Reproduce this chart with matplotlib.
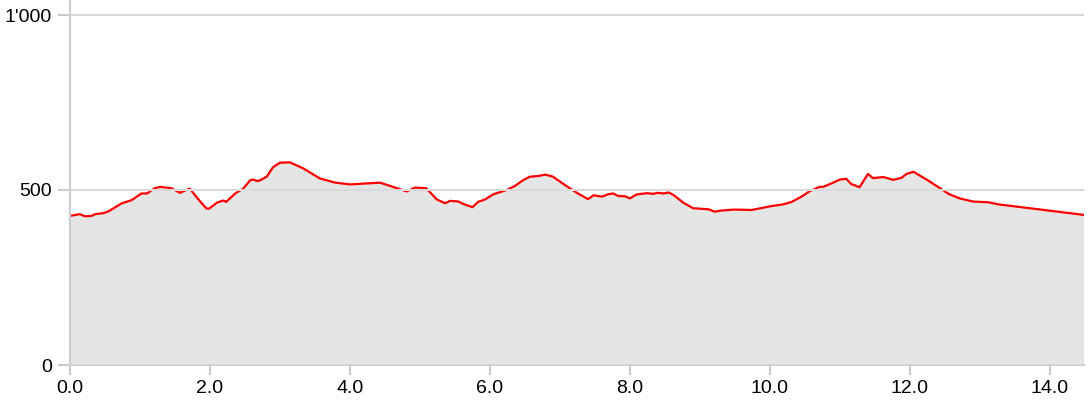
import matplotlib.pyplot as plt
from matplotlib.ticker import FuncFormatter

plt.rcParams['font.family'] = ['Liberation Sans', 'DejaVu Sans']

# distance (km) and elevation (m)
dist = [0.00, 0.14, 0.21, 0.31, 0.36, 0.48, 0.55, 0.74, 0.88, 1.02, 1.10, 1.21, 1.29,
        1.45, 1.57, 1.71, 1.86, 1.95, 1.99, 2.10, 2.19, 2.23, 2.36, 2.48, 2.57, 2.61,
        2.67, 2.71, 2.81, 2.90, 3.00, 3.14, 3.33, 3.57, 3.79, 4.00, 4.43, 4.81, 4.93,
        5.09, 5.24, 5.36, 5.43, 5.55, 5.62, 5.75, 5.83, 5.93, 6.05, 6.24, 6.36, 6.48,
        6.57, 6.69, 6.79, 6.90, 7.05, 7.24, 7.40, 7.48, 7.60, 7.69, 7.76, 7.83, 7.93,
        8.00, 8.09, 8.24, 8.33, 8.40, 8.48, 8.55, 8.62, 8.76, 8.90, 9.12, 9.21, 9.29,
        9.48, 9.74, 10.02, 10.19, 10.31, 10.45, 10.57, 10.71, 10.76, 10.88, 11.00,
        11.09, 11.16, 11.28, 11.40, 11.47, 11.62, 11.76, 11.88, 11.95, 12.05, 12.26,
        12.43, 12.55, 12.71, 12.90, 13.12, 13.26, 14.48]
elev = [426, 431, 425, 426, 431, 434, 439, 462, 471, 490, 490, 505, 509,
        505, 492, 504, 467, 447, 447, 464, 470, 466, 490, 505, 527, 530,
        526, 527, 538, 565, 578, 579, 562, 533, 521, 516, 521, 496, 507,
        505, 473, 462, 469, 467, 460, 451, 466, 473, 488, 500, 512, 529,
        538, 540, 544, 538, 517, 492, 474, 485, 481, 488, 490, 483, 482,
        476, 487, 491, 489, 492, 490, 493, 486, 464, 448, 445, 438, 441,
        444, 443, 454, 459, 466, 481, 497, 509, 509, 519, 530,
        532, 517, 508, 546, 534, 537, 529, 535, 546, 552, 527,
        505, 489, 476, 467, 465, 459, 429]

x_ticks = [0, 2, 4, 6, 8, 10, 12, 14]
y_ticks = [0, 500, 1000]

fig = plt.figure(figsize=(10.88, 4.04), dpi=100)
ax = fig.add_axes([70 / 1088, 39 / 404, 1014 / 1088, 365 / 404])

ax.fill_between(dist, elev, 0, color='#e5e5e5', lw=0)
ax.plot(dist, elev, color='#ff0000', lw=1.6)

ax.set_xlim(0, 1014 / 70)
ax.set_ylim(0, 365 / 0.35)
ax.set_xticks(x_ticks)
ax.set_yticks(y_ticks)
ax.xaxis.set_major_formatter(FuncFormatter(lambda v, p: '%.1f' % v))
ax.yaxis.set_major_formatter(FuncFormatter(lambda v, p: "1'000" if v == 1000 else '%d' % v))

ax.grid(axis='y', color='#d9d9d9', lw=1.5)
ax.set_axisbelow(False)
for s in ['top', 'right']:
    ax.spines[s].set_visible(False)
for s in ['left', 'bottom']:
    ax.spines[s].set_color('#cccccc')
    ax.spines[s].set_linewidth(1.5)
ax.tick_params(color='#cccccc', width=1.5, labelsize=14)
ax.tick_params(axis='x', length=7.5, pad=3.5)
ax.tick_params(axis='y', length=8.5, pad=4.5)

fig.savefig('out.png', dpi=100)
